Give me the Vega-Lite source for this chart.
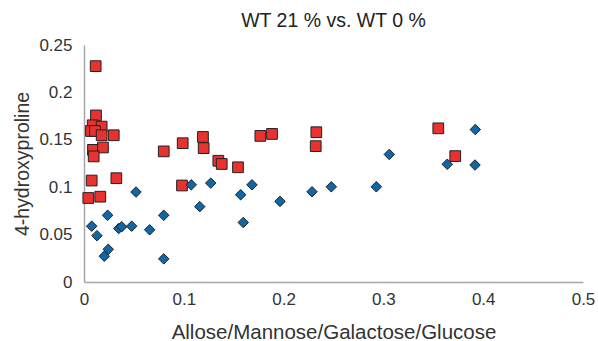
{
  "$schema": "https://vega.github.io/schema/vega-lite/v6.json",
  "width": 499,
  "height": 237,
  "autosize": "none",
  "padding": {"left": 84, "top": 45, "right": 15, "bottom": 59},
  "background": "white",
  "title": {"text": "WT 21 % vs. WT 0 %", "fontSize": 19.5, "font": "Liberation Sans", "fontWeight": "normal", "color": "#222", "anchor": "middle", "offset": 5},
  "config": {"view": {"stroke": null}},
  "data": {"values": [
    {"series": "WT 21%", "x": 0.0117, "y": 0.2277},
    {"series": "WT 21%", "x": 0.012, "y": 0.1757},
    {"series": "WT 21%", "x": 0.0087, "y": 0.1653},
    {"series": "WT 21%", "x": 0.0177, "y": 0.1639},
    {"series": "WT 21%", "x": 0.007, "y": 0.1593},
    {"series": "WT 21%", "x": 0.011, "y": 0.1593},
    {"series": "WT 21%", "x": 0.0177, "y": 0.1548},
    {"series": "WT 21%", "x": 0.0298, "y": 0.1548},
    {"series": "WT 21%", "x": 0.009, "y": 0.1394},
    {"series": "WT 21%", "x": 0.019, "y": 0.1419},
    {"series": "WT 21%", "x": 0.0097, "y": 0.1325},
    {"series": "WT 21%", "x": 0.0077, "y": 0.107},
    {"series": "WT 21%", "x": 0.0324, "y": 0.1095},
    {"series": "WT 21%", "x": 0.0043, "y": 0.0886},
    {"series": "WT 21%", "x": 0.0163, "y": 0.09},
    {"series": "WT 21%", "x": 0.0799, "y": 0.1378},
    {"series": "WT 21%", "x": 0.0989, "y": 0.1464},
    {"series": "WT 21%", "x": 0.0982, "y": 0.1018},
    {"series": "WT 21%", "x": 0.1192, "y": 0.153},
    {"series": "WT 21%", "x": 0.1199, "y": 0.1412},
    {"series": "WT 21%", "x": 0.1767, "y": 0.1541},
    {"series": "WT 21%", "x": 0.1884, "y": 0.1562},
    {"series": "WT 21%", "x": 0.2328, "y": 0.158},
    {"series": "WT 21%", "x": 0.2322, "y": 0.1433},
    {"series": "WT 21%", "x": 0.1346, "y": 0.1279},
    {"series": "WT 21%", "x": 0.138, "y": 0.1245},
    {"series": "WT 21%", "x": 0.1543, "y": 0.121},
    {"series": "WT 21%", "x": 0.355, "y": 0.1621},
    {"series": "WT 21%", "x": 0.372, "y": 0.1328},
    {"series": "WT 0%", "x": 0.1075, "y": 0.1025},
    {"series": "WT 0%", "x": 0.127, "y": 0.1043},
    {"series": "WT 0%", "x": 0.1683, "y": 0.1025},
    {"series": "WT 0%", "x": 0.157, "y": 0.092},
    {"series": "WT 0%", "x": 0.116, "y": 0.0795},
    {"series": "WT 0%", "x": 0.1964, "y": 0.085},
    {"series": "WT 0%", "x": 0.2285, "y": 0.0952},
    {"series": "WT 0%", "x": 0.2478, "y": 0.1004},
    {"series": "WT 0%", "x": 0.2929, "y": 0.1004},
    {"series": "WT 0%", "x": 0.1596, "y": 0.0628},
    {"series": "WT 0%", "x": 0.3059, "y": 0.1346},
    {"series": "WT 0%", "x": 0.3921, "y": 0.1608},
    {"series": "WT 0%", "x": 0.364, "y": 0.1242},
    {"series": "WT 0%", "x": 0.3918, "y": 0.1234},
    {"series": "WT 0%", "x": 0.0521, "y": 0.0949},
    {"series": "WT 0%", "x": 0.0237, "y": 0.0704},
    {"series": "WT 0%", "x": 0.0799, "y": 0.0704},
    {"series": "WT 0%", "x": 0.0077, "y": 0.0589},
    {"series": "WT 0%", "x": 0.013, "y": 0.0489},
    {"series": "WT 0%", "x": 0.0348, "y": 0.0565},
    {"series": "WT 0%", "x": 0.0378, "y": 0.0583},
    {"series": "WT 0%", "x": 0.0478, "y": 0.0589},
    {"series": "WT 0%", "x": 0.0658, "y": 0.0551},
    {"series": "WT 0%", "x": 0.0243, "y": 0.0345},
    {"series": "WT 0%", "x": 0.0203, "y": 0.0272},
    {"series": "WT 0%", "x": 0.0799, "y": 0.0244}
  ]},
  "mark": {"type": "point", "filled": true, "stroke": "#222", "strokeWidth": 1, "opacity": 1},
  "encoding": {
    "x": {"field": "x", "type": "quantitative", "scale": {"domain": [0, 0.5], "nice": false},
      "axis": {"values": [0, 0.1, 0.2, 0.3, 0.4, 0.5], "format": "~g", "title": "Allose/Mannose/Galactose/Glucose", "grid": false, "ticks": false, "domainColor": "#a6a6a6", "domainWidth": 1.5, "labelFont": "Liberation Sans", "labelFontSize": 17, "labelColor": "#333", "labelPadding": 9, "titleFont": "Liberation Sans", "titleFontSize": 20.5, "titleFontWeight": "normal", "titleColor": "#333", "titlePadding": 15, "labelFlush": false}},
    "y": {"field": "y", "type": "quantitative", "scale": {"domain": [0, 0.25], "nice": false},
      "axis": {"values": [0, 0.05, 0.1, 0.15, 0.2, 0.25], "format": "~g", "title": "4-hydroxyproline", "grid": false, "ticks": false, "domainColor": "#a6a6a6", "domainWidth": 1.5, "labelFont": "Liberation Sans", "labelFontSize": 17, "labelColor": "#333", "labelPadding": 12, "titleFont": "Liberation Sans", "titleFontSize": 19.5, "titleFontWeight": "normal", "titleColor": "#333", "titlePadding": 6, "labelFlush": false}},
    "shape": {"field": "series", "type": "nominal", "scale": {"domain": ["WT 21%", "WT 0%"], "range": ["square", "diamond"]}, "legend": null},
    "color": {"field": "series", "type": "nominal", "scale": {"domain": ["WT 21%", "WT 0%"], "range": ["#e8322f", "#0f67a9"]}, "legend": null},
    "size": {"field": "series", "type": "nominal", "scale": {"domain": ["WT 21%", "WT 0%"], "range": [115, 110]}, "legend": null}
  }
}
